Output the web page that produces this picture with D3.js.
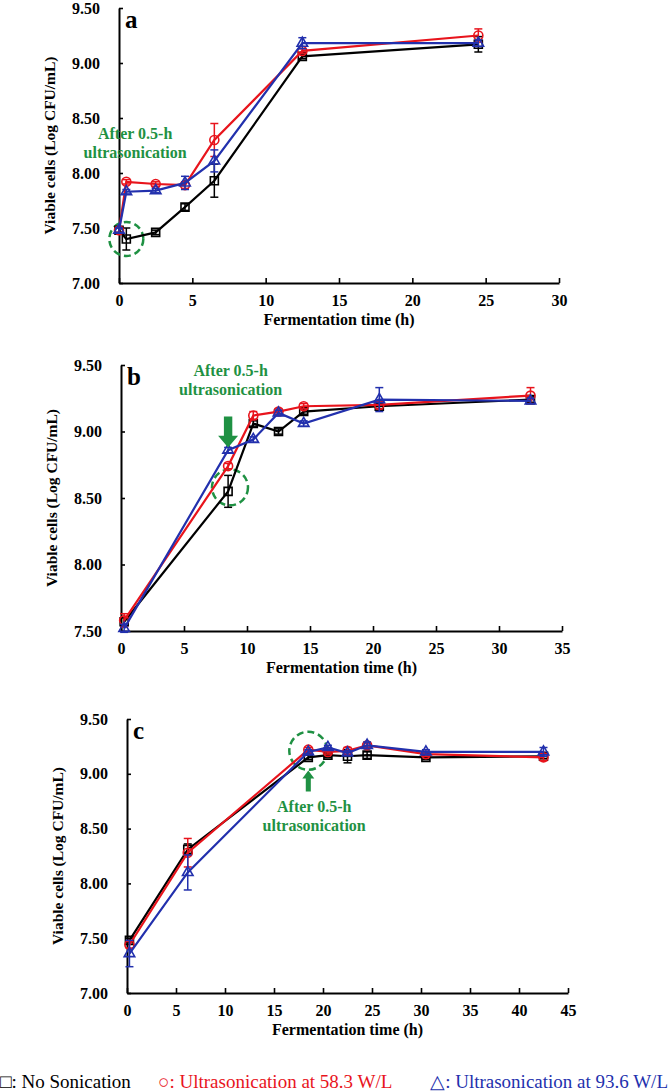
<!DOCTYPE html>
<html>
<head>
<meta charset="utf-8">
<script src="https://cdn.jsdelivr.net/npm/d3@7"></script>
<style>
  body { margin: 0; background: #fff; }
  svg text { font-family: 'Liberation Serif', 'Times New Roman', serif; }
</style>
</head>
<body>
<div id="chart"></div>
<script>
// panel a
const timeA = [0, 0.5, 2.5, 4.5, 6.5, 12.5, 24.5]
const noSonA = [7.48, 7.40, 7.46, 7.69, 7.93, 9.06, 9.17]
const noSonErrA = [0.02, 0.10, 0.02, 0.03, 0.15, 0.02, 0.07]
const low58A = [7.48, 7.92, 7.90, 7.89, 8.30, 9.11, 9.25]
const low58ErrA = [0.02, 0.02, 0.02, 0.03, 0.15, 0.02, 0.06]
const high93A = [7.48, 7.83, 7.84, 7.91, 8.11, 9.18, 9.18]
const high93ErrA = [0.02, 0.02, 0.02, 0.06, 0.10, 0.05, 0.03]

// panel b
const timeB = [0.25, 8.5, 10.5, 12.5, 14.5, 20.5, 32.5]
const noSonB = [7.57, 8.55, 9.06, 9.00, 9.15, 9.19, 9.24]
const noSonErrB = [0.03, 0.12, 0.02, 0.02, 0.02, 0.02, 0.02]
const low58B = [7.58, 8.74, 9.12, 9.15, 9.19, 9.20, 9.27]
const low58ErrB = [0.05, 0.02, 0.03, 0.02, 0.02, 0.03, 0.06]
const high93B = [7.52, 8.86, 8.94, 9.14, 9.06, 9.24, 9.23]
const high93ErrB = [0.03, 0.02, 0.02, 0.02, 0.02, 0.09, 0.02]

// panel c
const timeC = [0.25, 6.2, 18.5, 20.5, 22.5, 24.5, 30.5, 42.5]
const noSonC = [7.48, 8.31, 9.15, 9.17, 9.16, 9.17, 9.15, 9.16]
const noSonErrC = [0.02, 0.05, 0.02, 0.02, 0.06, 0.03, 0.02, 0.02]
const low58C = [7.44, 8.28, 9.22, 9.20, 9.21, 9.26, 9.18, 9.15]
const low58ErrC = [0.03, 0.13, 0.02, 0.02, 0.03, 0.02, 0.02, 0.03]
const high93C = [7.36, 8.10, 9.20, 9.24, 9.19, 9.26, 9.20, 9.20]
const high93ErrC = [0.12, 0.16, 0.02, 0.02, 0.02, 0.03, 0.02, 0.04]

// tick labels
const xTicksA = [0, 5, 10, 15, 20, 25, 30]
const xTicksB = [0, 5, 10, 15, 20, 25, 30, 35]
const xTicksC = [0, 5, 10, 15, 20, 25, 30, 35, 40, 45]
const yTicksAC = [7.0, 7.5, 8.0, 8.5, 9.0, 9.5]
const yTicksB = [7.5, 8.0, 8.5, 9.0, 9.5]

const legendLabels = ['\u25A1: No Sonication', '\u25CB: Ultrasonication at 58.3 W/L', '\u25B3: Ultrasonication at 93.6 W/L']

const black = '#000'
const red = '#e8141c'
const blue = '#2230ad'
const green = '#1f9143'

const svg = d3
  .select('#chart')
  .append('svg')
  .attr('width', 669)
  .attr('height', 1092)

function drawPanel(p) {
  var x = d3
    .scaleLinear()
    .domain([0, p.xTicks[p.xTicks.length - 1]])
    .range([p.left, p.right])
  var y = d3
    .scaleLinear()
    .domain([p.yTicks[0], p.yTicks[p.yTicks.length - 1]])
    .range([p.bottom, p.top])

  const g = svg.append('g')

  // X axis
  const xa = g
    .append('g')
    .attr('transform', 'translate(0,' + p.bottom + ')')
    .call(d3.axisBottom(x).tickValues(p.xTicks).tickSizeInner(-5).tickSizeOuter(0).tickPadding(12))
  // Y axis
  const ya = g
    .append('g')
    .attr('transform', 'translate(' + p.left + ',0)')
    .call(d3.axisLeft(y).tickValues(p.yTicks).tickFormat(d3.format('.2f')).tickSizeInner(-4).tickSizeOuter(0).tickPadding(19))
  ;[xa, ya].forEach(a => {
    a.select('.domain').attr('stroke-width', 2)
    a.selectAll('line').attr('stroke-width', 1.6)
    a.selectAll('text')
      .style('font-size', '16px')
      .style('font-weight', 'bold')
      .attr('fill', '#000')
  })

  g.append('text')
    .attr('x', (p.left + p.right) / 2)
    .attr('y', p.bottom + 42)
    .attr('text-anchor', 'middle')
    .style('font-size', '16px')
    .style('font-weight', 'bold')
    .text('Fermentation time (h)')

  g.append('text')
    .attr('transform', 'translate(' + (p.left - 64) + ',' + (p.top + p.bottom) / 2 + ')rotate(-90)')
    .attr('text-anchor', 'middle')
    .style('font-size', '15.5px')
    .style('font-weight', 'bold')
    .text('Viable cells (Log CFU/mL)')

  g.append('text')
    .attr('x', p.left + 6)
    .attr('y', p.top + 20)
    .style('font-size', '25px')
    .style('font-weight', 'bold')
    .text(p.label)

  // green highlight circle
  g.append('circle')
    .attr('cx', x(p.ring[0]))
    .attr('cy', y(p.ring[1]))
    .attr('r', p.ring[2])
    .attr('fill', 'none')
    .attr('stroke', green)
    .attr('stroke-width', 2.5)
    .attr('stroke-dasharray', '7,4')

  const line = d3
    .line()
    .x(d => x(d.t))
    .y(d => y(d.v))

  p.series.forEach(s => {
    const pts = p.time.map((t, i) => ({ t: t, v: s.vals[i], e: s.errs[i] }))
    const sg = g.append('g')
    sg.append('path')
      .datum(pts)
      .attr('d', line)
      .attr('fill', 'none')
      .attr('stroke', s.color)
      .attr('stroke-width', 2.2)
    const eb = sg
      .selectAll('g.err')
      .data(pts)
      .enter()
      .append('g')
      .attr('stroke', s.color)
      .attr('stroke-width', 1.5)
    eb.append('line')
      .attr('x1', d => x(d.t))
      .attr('x2', d => x(d.t))
      .attr('y1', d => y(d.v - d.e))
      .attr('y2', d => y(d.v + d.e))
    eb.append('line')
      .attr('x1', d => x(d.t) - 4)
      .attr('x2', d => x(d.t) + 4)
      .attr('y1', d => y(d.v - d.e))
      .attr('y2', d => y(d.v - d.e))
    eb.append('line')
      .attr('x1', d => x(d.t) - 4)
      .attr('x2', d => x(d.t) + 4)
      .attr('y1', d => y(d.v + d.e))
      .attr('y2', d => y(d.v + d.e))
    sg.selectAll('path.mk')
      .data(pts)
      .enter()
      .append('path')
      .attr('class', 'mk')
      .attr('transform', d => 'translate(' + x(d.t) + ',' + y(d.v) + ')')
      .attr('d', d3.symbol().type(s.shape).size(s.size))
      .attr('fill', 'none')
      .attr('stroke', s.color)
      .attr('stroke-width', 1.6)
  })

  // annotation text
  g.append('text')
    .attr('x', x(p.note[0]))
    .attr('y', y(p.note[1]))
    .attr('text-anchor', 'middle')
    .attr('fill', green)
    .style('font-size', '16px')
    .style('font-weight', 'bold')
    .selectAll('tspan')
    .data(['After 0.5-h', 'ultrasonication'])
    .enter()
    .append('tspan')
    .attr('x', x(p.note[0]))
    .attr('dy', (d, i) => (i ? 19 : 0))
    .text(d => d)

  // arrow
  if (p.arrow) {
    const ax = x(p.arrow[0])
    const ay = y(p.arrow[1])
    const dir = p.arrow[2]
    const len = p.arrow[3]
    const hw = p.arrow[4]
    const sw = hw * 0.42
    const hl = len * 0.38
    const path = d3.path()
    path.moveTo(ax, ay)
    path.lineTo(ax - hw, ay - dir * hl)
    path.lineTo(ax - sw, ay - dir * hl)
    path.lineTo(ax - sw, ay - dir * len)
    path.lineTo(ax + sw, ay - dir * len)
    path.lineTo(ax + sw, ay - dir * hl)
    path.lineTo(ax + hw, ay - dir * hl)
    path.closePath()
    g.append('path').attr('d', path.toString()).attr('fill', green)
  }
}

function seriesOf(a, ae, b, be, c, ce) {
  return [
    { vals: a, errs: ae, color: black, shape: d3.symbolSquare, size: 64 },
    { vals: b, errs: be, color: red, shape: d3.symbolCircle, size: 64 },
    { vals: c, errs: ce, color: blue, shape: d3.symbolTriangle, size: 48 }
  ]
}

drawPanel({
  label: 'a', left: 119, right: 559, top: 8, bottom: 283,
  xTicks: xTicksA, yTicks: yTicksAC, time: timeA,
  series: seriesOf(noSonA, noSonErrA, low58A, low58ErrA, high93A, high93ErrA),
  ring: [0.5, 7.40, 17], note: [1.1, 8.31]
})

drawPanel({
  label: 'b', left: 121, right: 562, top: 365, bottom: 631,
  xTicks: xTicksB, yTicks: yTicksB, time: timeB,
  series: seriesOf(noSonB, noSonErrB, low58B, low58ErrB, high93B, high93ErrB),
  ring: [8.65, 8.58, 18], note: [8.7, 9.42],
  arrow: [8.5, 8.88, 1, 31, 10]
})

drawPanel({
  label: 'c', left: 127, right: 568, top: 719, bottom: 993,
  xTicks: xTicksC, yTicks: yTicksAC, time: timeC,
  series: seriesOf(noSonC, noSonErrC, low58C, low58ErrC, high93C, high93ErrC),
  ring: [18.5, 9.21, 19], note: [19.1, 8.65],
  arrow: [18.5, 9.03, -1, 21, 6]
})

// legend
const legendX = [0, 158, 668]
svg
  .append('g')
  .selectAll('text')
  .data(legendLabels)
  .enter()
  .append('text')
  .attr('x', (d, i) => legendX[i])
  .attr('y', 1088)
  .attr('text-anchor', (d, i) => (i === 2 ? 'end' : 'start'))
  .attr('fill', (d, i) => [black, red, blue][i])
  .style('font-size', '19px')
  .text(d => d)
</script>
</body>
</html>
